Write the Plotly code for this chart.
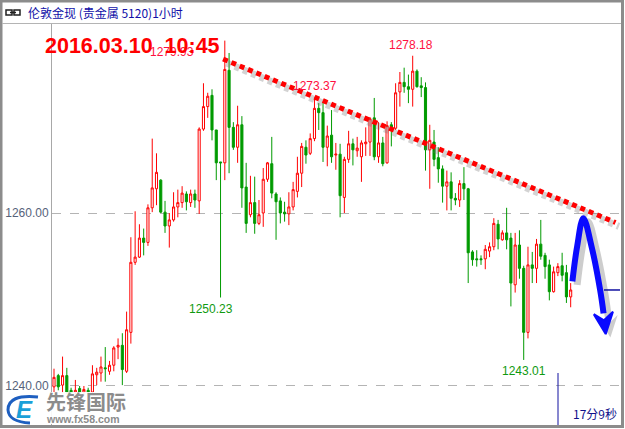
import plotly.graph_objects as go

W, H = 625, 429
ML, MR, MT, MB = 52, 5, 24, 4


def px(x):
    return (x - ML) / (W - ML - MR)


def py(y):
    return (H - MB - y) / (H - MT - MB)


# hourly candles, London gold spot
opens = [1239.9, 1241.2, 1240.1, 1241.2, 1239.5, 1239.3, 1239.7, 1239.3, 1239.5, 1239.3,
         1241.3, 1241.5, 1242.1, 1241.7, 1242.4, 1244.5, 1244.7, 1241.7, 1246.2, 1254.3,
         1254.9, 1257.1, 1256.6, 1260.6, 1262.8, 1263.8, 1260.1, 1258.5, 1259.2, 1260.7,
         1261.2, 1262.2, 1261.2, 1262.2, 1261.4, 1269.7, 1272.3, 1273.6, 1269.6, 1265.9,
         1265.8, 1276.5, 1269.9, 1267.6, 1270.2, 1263.0, 1259.8, 1261.2, 1258.8, 1260.0,
         1263.9, 1265.7, 1262.2, 1261.4, 1260.1, 1259.9, 1260.7, 1262.5, 1264.6, 1267.6,
         1266.9, 1268.6, 1272.1, 1271.6, 1267.6, 1269.0, 1266.7, 1266.8, 1261.8, 1266.2,
         1268.0, 1267.2, 1266.5, 1268.0, 1268.2, 1271.0, 1266.5, 1268.1, 1265.8, 1270.2,
         1269.8, 1274.0, 1275.1, 1274.6, 1274.3, 1276.4, 1274.7, 1274.5, 1267.3, 1268.2,
         1266.4, 1265.1, 1263.1, 1263.6, 1261.7, 1261.5, 1263.4, 1262.8, 1255.5, 1254.7,
         1254.7, 1254.7, 1255.6, 1256.1, 1258.7, 1256.9, 1257.7, 1257.1, 1251.7, 1256.3,
         1253.6, 1246.2, 1254.0, 1253.6, 1256.4, 1255.1, 1254.0, 1250.9, 1253.1, 1253.9,
         1253.1, 1250.3]
highs = [1242.0, 1241.4, 1243.4, 1242.1, 1239.8, 1240.7, 1240.0, 1240.0, 1239.8, 1242.4,
         1242.1, 1243.4, 1244.5, 1242.9, 1244.6, 1245.5, 1246.1, 1248.6, 1257.2, 1260.2,
         1258.7, 1258.2, 1261.0, 1268.6, 1266.9, 1263.9, 1261.4, 1260.0, 1262.4, 1262.7,
         1263.1, 1262.5, 1262.7, 1262.7, 1269.9, 1275.0, 1273.9, 1274.3, 1269.6, 1265.9,
         1279.93, 1278.5, 1270.5, 1272.4, 1271.2, 1265.8, 1264.3, 1264.2, 1261.5, 1265.2,
         1265.9, 1268.8, 1262.4, 1261.8, 1261.3, 1262.4, 1263.6, 1266.5, 1268.1, 1268.4,
         1269.2, 1273.37, 1272.7, 1272.8, 1270.1, 1271.9, 1268.1, 1268.0, 1266.5, 1269.5,
         1268.6, 1268.8, 1268.4, 1269.9, 1271.1, 1273.3, 1270.5, 1268.8, 1270.6, 1270.5,
         1275.0, 1276.3, 1276.8, 1276.0, 1278.18, 1276.6, 1275.7, 1275.1, 1270.2, 1269.6,
         1267.6, 1265.5, 1264.9, 1264.7, 1262.3, 1263.8, 1265.3, 1262.9, 1255.7, 1255.7,
         1255.1, 1256.3, 1256.6, 1259.4, 1259.2, 1258.0, 1260.6, 1257.7, 1257.7, 1258.0,
         1253.9, 1256.1, 1255.5, 1257.0, 1259.2, 1255.4, 1254.6, 1253.8, 1254.2, 1255.4,
         1254.0, 1251.9]
lows = [1239.3, 1239.5, 1239.2, 1239.1, 1238.9, 1239.0, 1238.8, 1238.9, 1238.9, 1239.1,
        1240.1, 1240.5, 1240.5, 1241.3, 1241.7, 1243.1, 1240.1, 1241.5, 1244.9, 1254.0,
        1254.8, 1255.1, 1256.2, 1260.1, 1260.9, 1260.0, 1257.7, 1256.0, 1259.0, 1259.5,
        1260.6, 1260.3, 1260.7, 1260.6, 1259.9, 1269.5, 1271.0, 1268.4, 1263.8, 1250.23,
        1263.8, 1264.6, 1267.3, 1265.8, 1260.6, 1257.7, 1259.5, 1257.6, 1258.6, 1258.4,
        1263.6, 1261.7, 1256.9, 1258.8, 1259.0, 1258.6, 1260.3, 1261.8, 1263.0, 1265.7,
        1266.7, 1268.3, 1269.6, 1265.9, 1265.4, 1265.8, 1265.0, 1259.5, 1260.0, 1265.8,
        1265.5, 1266.5, 1263.6, 1266.6, 1266.6, 1266.1, 1265.8, 1265.4, 1265.7, 1267.7,
        1269.6, 1272.3, 1273.9, 1272.7, 1272.3, 1274.5, 1273.4, 1264.9, 1262.8, 1265.4,
        1263.5, 1261.2, 1260.3, 1260.3, 1260.9, 1260.7, 1261.5, 1251.9, 1253.9, 1253.8,
        1254.0, 1253.5, 1254.9, 1255.7, 1255.8, 1256.8, 1255.8, 1249.2, 1250.8, 1252.4,
        1243.01, 1245.5, 1251.9, 1251.9, 1254.6, 1252.4, 1249.9, 1250.8, 1252.7, 1252.1,
        1249.6, 1249.1]
closes = [1241.0, 1239.9, 1241.2, 1239.3, 1239.2, 1239.5, 1239.2, 1239.6, 1239.3, 1241.4,
          1241.6, 1242.2, 1242.0, 1242.4, 1244.4, 1244.7, 1241.9, 1246.5, 1254.3, 1254.9,
          1257.1, 1256.6, 1260.6, 1262.9, 1264.7, 1260.1, 1258.5, 1259.2, 1260.7, 1261.2,
          1262.3, 1261.3, 1262.2, 1261.5, 1269.7, 1272.3, 1273.5, 1269.6, 1265.8, 1265.8,
          1276.6, 1269.9, 1267.6, 1270.2, 1262.9, 1258.8, 1261.2, 1258.8, 1259.8, 1263.9,
          1265.8, 1262.3, 1261.3, 1260.0, 1259.9, 1260.7, 1262.7, 1264.6, 1267.7, 1266.7,
          1268.6, 1272.1, 1271.6, 1267.6, 1268.9, 1266.5, 1266.8, 1262.0, 1266.2, 1268.0,
          1267.3, 1267.5, 1268.1, 1268.2, 1270.9, 1266.5, 1268.1, 1265.7, 1270.1, 1269.8,
          1273.9, 1275.1, 1274.6, 1274.3, 1276.4, 1274.6, 1274.5, 1267.3, 1268.4, 1266.2,
          1265.1, 1263.1, 1263.6, 1261.7, 1261.5, 1263.4, 1262.8, 1255.4, 1254.6, 1254.6,
          1254.6, 1255.8, 1256.1, 1258.8, 1257.0, 1257.7, 1256.9, 1251.9, 1256.3, 1253.6,
          1246.2, 1254.0, 1253.6, 1256.4, 1255.0, 1253.8, 1250.9, 1253.2, 1253.8, 1252.8,
          1250.3, 1251.1]
bars = list(range(len(opens)))

y_ticks = [1240, 1260]
y_ticktext = ["1240.00", "1260.00"]

# price labels: (text, bar, price, anchor, xshift, colour)
extremes = [
    ("1279.93", 40, 1279.93, "top", -53, "#ff1040"),
    ("1273.37", 61, 1273.37, "bottom", 1, "#ff1040"),
    ("1278.18", 84, 1278.18, "bottom", -2, "#ff1040"),
    ("1250.23", 39, 1250.23, "top", -10, "#109a10"),
    ("1243.01", 110, 1243.01, "top", 0, "#109a10"),
]

# hand drawn overlays
trend_x = [39.6, 131.5]
trend_y = [1277.8, 1258.9]
arrow_x = [121.4, 122.5, 123.96, 125.9, 127.9, 128.7]
arrow_y = [1252.1, 1256.1, 1259.4, 1256.1, 1251.1, 1248.4]
head_x = [126.4, 129.2, 130.9, 128.8, 126.4]
head_y = [1248.3, 1246.0, 1248.6, 1247.6, 1248.3]

fig = go.Figure()

fig.add_trace(go.Candlestick(
    x=bars, open=opens, high=highs, low=lows, close=closes,
    increasing=dict(line=dict(color="#ff0000", width=1), fillcolor="#ffffff"),
    decreasing=dict(line=dict(color="#009a00", width=1), fillcolor="#009a00"),
    whiskerwidth=0, hoverinfo="skip",
))

# trend line with shadow
fig.add_trace(go.Scatter(
    x=[v + 0.8 for v in trend_x], y=[v - 0.45 for v in trend_y], mode="lines",
    line=dict(color="rgba(110,110,110,0.3)", width=7, dash="5px,4px"), hoverinfo="skip"))
fig.add_trace(go.Scatter(
    x=trend_x, y=trend_y, mode="lines",
    line=dict(color="#ff0000", width=5, dash="5px,4px"), hoverinfo="skip"))

# blue arrow with shadow
fig.add_trace(go.Scatter(
    x=[v + 1.1 for v in arrow_x], y=[v - 0.4 for v in arrow_y], mode="lines",
    line=dict(color="rgba(90,90,90,0.3)", width=7, shape="spline"), hoverinfo="skip"))
fig.add_trace(go.Scatter(
    x=[v + 1.1 for v in head_x], y=[v - 0.4 for v in head_y], mode="lines", fill="toself",
    fillcolor="rgba(90,90,90,0.3)", line=dict(width=0, color="rgba(0,0,0,0)"), hoverinfo="skip"))
fig.add_trace(go.Scatter(
    x=arrow_x, y=arrow_y, mode="lines",
    line=dict(color="#0a0aff", width=6, shape="spline"), hoverinfo="skip"))
fig.add_trace(go.Scatter(
    x=head_x, y=head_y, mode="lines", fill="toself", fillcolor="#0a0aff",
    line=dict(width=2, color="#0a0aff"), hoverinfo="skip"))

ann = []
for text, b, price, anchor, xs, col in extremes:
    ann.append(dict(x=b, y=price, xref="x", yref="y", text=text, showarrow=False,
                    yanchor=anchor, xshift=xs, yshift=2 if anchor == "bottom" else -2,
                    font=dict(family="Liberation Sans", size=12, color=col)))

ann += [
    dict(x=px(43), y=py(46), xref="paper", yref="paper", xanchor="left", yanchor="middle",
         text="<b>2016.03.10\u00a0\u00a010:45</b>", showarrow=False,
         font=dict(family="Liberation Sans", size=21.5, color="#ff0000")),
    dict(x=px(26), y=py(12), xref="paper", yref="paper", xanchor="left", yanchor="middle",
         text="伦敦金现 (贵金属 5120)1小时", showarrow=False,
         font=dict(family="Noto Sans CJK SC", size=12, color="#1010a8")),
    dict(x=px(619), y=py(413), xref="paper", yref="paper", xanchor="right", yanchor="middle",
         text="17分9秒", showarrow=False,
         font=dict(family="Noto Sans CJK SC", size=12, color="#10108a")),
    dict(x=px(44), y=py(401), xref="paper", yref="paper", xanchor="left", yanchor="middle",
         text="<b>先锋国际</b>", showarrow=False,
         font=dict(family="Noto Sans CJK SC", size=20, color="#8c8c8c")),
    dict(x=px(44), y=py(419), xref="paper", yref="paper", xanchor="left", yanchor="middle",
         text="<b>www.fx58.com</b>", showarrow=False,
         font=dict(family="Liberation Sans", size=10.5, color="#8c8c8c")),
    dict(x=px(24), y=py(409), xref="paper", yref="paper", xanchor="center", yanchor="middle",
         text="<b><i>E</i></b>", showarrow=False,
         font=dict(family="Liberation Sans", size=24, color="#1aa0d8")),
]

grey = "#8c8c8c"
shapes = [
    # window frame and title separator
    dict(type="rect", xref="paper", yref="paper", x0=px(1), x1=px(622.5), y0=py(1), y1=py(426.5),
         line=dict(color=grey, width=3), layer="above"),
    dict(type="line", xref="paper", yref="paper", x0=px(2), x1=px(621), y0=py(23.5), y1=py(23.5),
         line=dict(color="#b4b4b4", width=1)),
    # chain icon in the title bar
    dict(type="rect", xref="paper", yref="paper", x0=px(6), x1=px(12), y0=py(10), y1=py(15),
         line=dict(color="#202020", width=1.5)),
    dict(type="rect", xref="paper", yref="paper", x0=px(14), x1=px(20), y0=py(10), y1=py(15),
         line=dict(color="#202020", width=1.5)),
    dict(type="line", xref="paper", yref="paper", x0=px(10), x1=px(16), y0=py(12.5), y1=py(12.5),
         line=dict(color="#202020", width=1.5)),
    # logo patch
    dict(type="rect", xref="paper", yref="paper", x0=px(3), x1=px(140), y0=py(392), y1=py(424),
         fillcolor="rgba(255,255,255,0.92)", line=dict(width=0), layer="above"),
    dict(type="path", xref="paper", yref="paper", layer="above",
         path="M %f %f Q %f %f %f %f Q %f %f %f %f" % (
             px(38), py(397), px(8), py(394), px(8), py(410), px(9), py(422), px(30), py(423)),
         line=dict(color="#1e5fc0", width=3)),
    # time marker and last price marker
    dict(type="line", xref="paper", yref="paper", x0=px(558), x1=px(558), y0=py(373), y1=py(425),
         line=dict(color="#1010a0", width=1), layer="above"),
    dict(type="line", xref="paper", yref="y", x0=px(604), x1=px(620), y0=closes[-1], y1=closes[-1],
         line=dict(color="#1010a0", width=1.5), layer="above"),
]

fig.update_layout(
    width=W, height=H,
    margin=dict(l=ML, r=MR, t=MT, b=MB, pad=0),
    paper_bgcolor="#ffffff", plot_bgcolor="#ffffff",
    showlegend=False,
    xaxis=dict(range=[-0.47, 132.55], visible=False, rangeslider=dict(visible=False),
               showgrid=False, zeroline=False, fixedrange=True),
    yaxis=dict(range=[1235.49, 1281.85], tickvals=y_ticks, ticktext=y_ticktext,
               showgrid=True, gridcolor="#b4b4b4", griddash="dash", gridwidth=1,
               showline=True, linecolor="#a8a8a8", linewidth=1, zeroline=False,
               ticks="", tickfont=dict(family="Liberation Sans", size=12, color="#56627a")),
    annotations=ann,
    shapes=shapes,
)

fig.write_html("out.html", config={"displayModeBar": False},
               post_script="document.body.style.margin='0';"
                           "document.body.style.overflow='hidden';")
